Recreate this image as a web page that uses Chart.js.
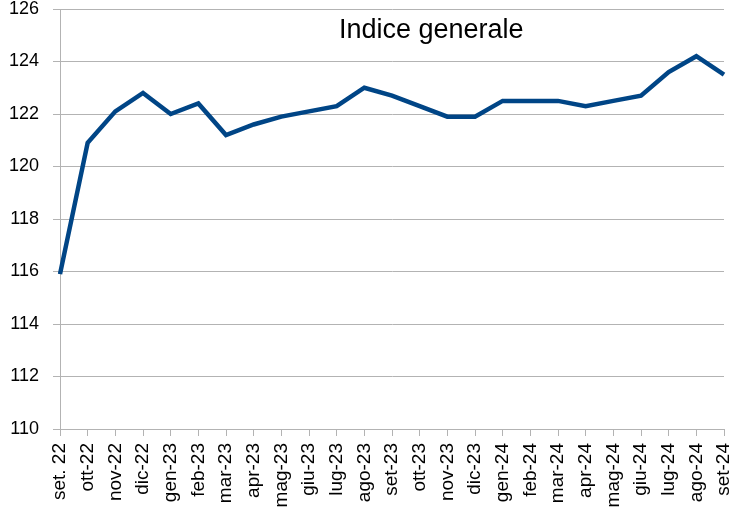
<!DOCTYPE html>
<html>
<head>
<meta charset="utf-8">
<script src="https://cdn.jsdelivr.net/npm/chart.js@4/dist/chart.umd.min.js"></script>
<style>
  html, body { margin: 0; padding: 0; background: #fff; }
  #wrap { width: 739px; height: 527px; position: relative; }
</style>
</head>
<body>
<div id="wrap"><canvas id="c" width="739" height="527"></canvas></div>
<script>
const categories = ["set. 22","ott-22","nov-22","dic-22","gen-23","feb-23","mar-23","apr-23","mag-23","giu-23","lug-23","ago-23","set-23","ott-23","nov-23","dic-23","gen-24","feb-24","mar-24","apr-24","mag-24","giu-24","lug-24","ago-24","set-24"];
const indiceGenerale = [115.9,120.9,122.1,122.8,122.0,122.4,121.2,121.6,121.9,122.1,122.3,123.0,122.7,122.3,121.9,121.9,122.5,122.5,122.5,122.3,122.5,122.7,123.6,124.2,123.5];
const yTicks = [110,112,114,116,118,120,122,124,126];
const chartTitle = "Indice generale";

const FONT = "'Liberation Sans', Arial, sans-serif";

const titlePlugin = {
  id: 'innerTitle',
  afterDraw(chart) {
    const ctx = chart.ctx;
    ctx.save();
    ctx.font = "27px " + FONT;
    ctx.fillStyle = "#000";
    ctx.textAlign = "left";
    ctx.textBaseline = "alphabetic";
    ctx.fillText(chartTitle, 339, 38);
    ctx.restore();
  }
};

new Chart(document.getElementById('c'), {
  type: 'line',
  data: {
    labels: categories,
    datasets: [{
      label: chartTitle,
      data: indiceGenerale,
      borderColor: '#004586',
      backgroundColor: '#004586',
      borderWidth: 4.5,
      pointRadius: 0,
      tension: 0,
      fill: false,
      borderJoinStyle: 'miter'
    }]
  },
  options: {
    responsive: false,
    animation: false,
    devicePixelRatio: 1,
    layout: { padding: { top: 9, right: 15, bottom: 0, left: 0 } },
    plugins: {
      legend: { display: false },
      title: { display: false },
      tooltip: { enabled: false }
    },
    scales: {
      x: {
        type: 'category',
        offset: false,
        grid: {
          display: true,
          drawOnChartArea: false,
          drawTicks: true,
          tickLength: 7,
          color: '#b3b3b3',
          lineWidth: 1
        },
        border: { color: '#b3b3b3', width: 1 },
        ticks: {
          autoSkip: false,
          maxRotation: 90,
          minRotation: 90,
          padding: 7,
          color: '#000',
          font: { family: FONT, size: 19 }
        },
        afterFit(scale) {
          scale.height = 98;
          scale.paddingLeft = 0; scale.paddingRight = 0;
          scale.paddingTop = 0; scale.paddingBottom = 0;
        }
      },
      y: {
        min: 110,
        max: 126,
        afterBuildTicks(scale) { scale.ticks = yTicks.map(v => ({ value: v })); },
        grid: {
          color: '#b3b3b3',
          lineWidth: 1,
          tickLength: 7
        },
        border: { color: '#b3b3b3', width: 1 },
        ticks: {
          padding: 14,
          color: '#000',
          font: { family: FONT, size: 18 }
        },
        afterFit(scale) {
          scale.width = 60;
          scale.paddingTop = 0; scale.paddingBottom = 0;
          scale.paddingLeft = 0; scale.paddingRight = 0;
        }
      }
    }
  },
  plugins: [titlePlugin]
});
</script>
</body>
</html>
